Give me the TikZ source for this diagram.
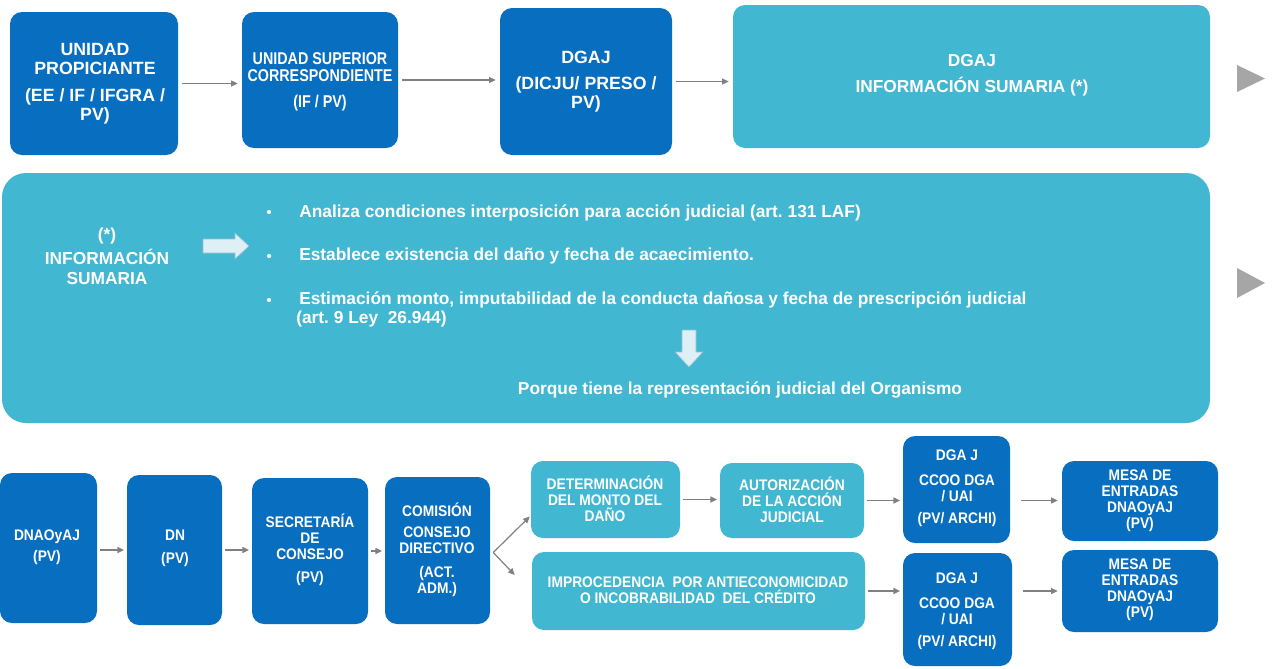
\documentclass[tikz,border=0pt]{standalone}
\usepackage{fontspec}
\setmainfont{Liberation Sans}
\newfontfamily\narrowsans{Liberation Sans}[FakeStretch=0.9]
\newfontfamily\tightsans{Liberation Sans}[FakeStretch=0.84]
\usetikzlibrary{arrows.meta,calc,fit}

\definecolor{deepblue}{RGB}{8,110,192}
\definecolor{skyblue}{RGB}{65,183,210}
\definecolor{connector}{RGB}{128,128,128}
\definecolor{pointer}{RGB}{166,166,166}
\definecolor{palefill}{RGB}{222,240,246}
\definecolor{paleedge}{RGB}{150,190,205}

\tikzset{
  box/.style={rounded corners=9pt, inner sep=0pt},
  dark/.style={box, fill=deepblue},
  light/.style={box, fill=skyblue},
  boxtext/.style={text=white, align=center, inner sep=0pt},
  bigfont/.style={font=\bfseries\fontsize{13.3}{14.3}\selectfont},
  midfont/.style={font=\tightsans\bfseries\fontsize{12.8}{12.8}\selectfont},
  lowfont/.style={font=\narrowsans\bfseries\fontsize{11.5}{12}\selectfont},
  paneltext/.style={text=white, inner sep=0pt, font=\bfseries\fontsize{13}{15}\selectfont},
  bulletdot/.style={fill=white!92!skyblue, circle, inner sep=0pt, minimum size=3.2pt},
  conn/.style={draw=connector, line width=0.9pt, -{Triangle[length=5pt,width=4.5pt]}},
  blockarrow/.style={fill=palefill, draw=paleedge, line width=0.5pt},
  pointertri/.style={fill=pointer}
}

\begin{document}
\begin{tikzpicture}[x=0.75pt,y=-0.75pt]
\useasboundingbox[fill=white] (0,0) rectangle (1280,668);

% ---- first row ----
\node[dark, fit={(10,12)(178,155)}] (unidad) {};
\node[boxtext, bigfont] (unidadtxt) at (95,83.5)
  {UNIDAD\\PROPICIANTE\\[6pt](EE / IF / IFGRA /\\PV)};
\node[dark, fit={(242,12)(398,148)}] (superior) {};
\node[boxtext, midfont] (superiortxt) at (320,82)
  {UNIDAD SUPERIOR\\CORRESPONDIENTE\\[7pt](IF / PV)};
\node[dark, fit={(500,8)(672,155)}] (dgaj) {};
\node[boxtext, bigfont] (dgajtxt) at (586,82)
  {DGAJ\\[5pt](DICJU/ PRESO /\\PV)};
\node[light, fit={(733,5)(1210,148)}] (sumaria) {};
\node[boxtext, font=\bfseries\fontsize{13}{14.5}\selectfont] (sumariatxt) at (972,75)
  {DGAJ\\[5pt]INFORMACIÓN SUMARIA (*)};
\fill[pointertri] (1237,65) -- (1265,78.5) -- (1237,92) -- cycle;

\draw[conn] ([xshift=3pt]unidad.east) -- ([xshift=-3pt]superior.west |- unidad.east);
\draw[conn] ([xshift=3pt]superior.east) -- ([xshift=-3pt]dgaj.west |- superior.east);
\draw[conn] ([xshift=3pt]dgaj.east) -- ([xshift=-3pt]sumaria.west |- dgaj.east);

% ---- explanation panel ----
\node[light, rounded corners=18pt, fit={(2,173)(1210,423)}] (panel) {};
\fill[pointertri] (1237,268) -- (1265,283) -- (1237,298) -- cycle;

\node[paneltext, align=center] (infotitle) at (107,256)
  {(*)\\[3pt]INFORMACIÓN\\SUMARIA};
\draw[blockarrow] (203,239) -- (235,239) -- (235,233) -- (249,246) -- (235,259) -- (235,253) -- (203,253) -- cycle;

\node[bulletdot] (dot1) at (269,212) {};
\node[bulletdot] (dot2) at (269,256) {};
\node[bulletdot] (dot3) at (269,300) {};
\node[paneltext, anchor=west] (item1) at (299,213)
  {Analiza condiciones interposición para acción judicial (art.\ 131 LAF)};
\node[paneltext, anchor=west] (item2) at (299,256)
  {Establece existencia del daño y fecha de acaecimiento.};
\node[paneltext, anchor=west] (item3) at (299,300)
  {Estimación monto, imputabilidad de la conducta dañosa y fecha de prescripción judicial};
\node[paneltext, anchor=west] (item3b) at (296,319) {(art.\ 9 Ley\ \ 26.944)};

\draw[blockarrow] (682,330) -- (696,330) -- (696,352) -- (703,352) -- (689,367) -- (675,352) -- (682,352) -- cycle;
\node[paneltext] (porque) at (740,390) {Porque tiene la representación judicial del Organismo};

% ---- last row ----
\node[dark, fit={(0,473)(97,623)}] (dnaoyaj) {};
\node[boxtext, lowfont] (dnaoyajtxt) at (47,547) {DNAOyAJ\\[4pt](PV)};
\node[dark, fit={(127,475)(222,625)}] (dn) {};
\node[boxtext, lowfont] (dntxt) at (175,548) {DN\\[5pt](PV)};
\node[dark, fit={(252,478)(368,624)}] (secretaria) {};
\node[boxtext, lowfont] (secretariatxt) at (310,550) {SECRETARÍA\\DE\\CONSEJO\\[5pt](PV)};
\node[dark, fit={(385,477)(490,624)}] (comision) {};
\node[boxtext, lowfont] (comisiontxt) at (437,550) {COMISIÓN\\[4pt]CONSEJO\\DIRECTIVO\\[6pt](ACT.\\ADM.)};

\node[light, fit={(531,461)(680,538)}] (monto) {};
\node[boxtext, lowfont] (montotxt) at (605,499) {DETERMINACIÓN\\DEL MONTO DEL\\DAÑO};
\node[light, fit={(720,463)(864,538)}] (autorizacion) {};
\node[boxtext, lowfont] (autorizaciontxt) at (792,500) {AUTORIZACIÓN\\DE LA ACCIÓN\\JUDICIAL};
\node[dark, fit={(903,436)(1010,543)}] (ccooA) {};
\node[boxtext, lowfont] (ccooAtxt) at (957,488) {DGA J\\[7pt]CCOO DGA\\/ UAI\\[4pt](PV/ ARCHI)};
\node[dark, fit={(1062,461)(1218,541)}] (mesaA) {};
\node[boxtext, lowfont] (mesaAtxt) at (1140,501) {MESA DE\\ENTRADAS\\DNAOyAJ\\(PV)};

\node[light, fit={(532,552)(865,630)}] (improcedencia) {};
\node[boxtext, lowfont] (improcedenciatxt) at (698,590)
  {IMPROCEDENCIA\ \ POR ANTIECONOMICIDAD\\O INCOBRABILIDAD\ \ DEL CRÉDITO};
\node[dark, fit={(903,553)(1012,666)}] (ccooB) {};
\node[boxtext, lowfont] (ccooBtxt) at (957,611) {DGA J\\[7pt]CCOO DGA\\/ UAI\\[4pt](PV/ ARCHI)};
\node[dark, fit={(1062,550)(1218,632)}] (mesaB) {};
\node[boxtext, lowfont] (mesaBtxt) at (1140,590) {MESA DE\\ENTRADAS\\DNAOyAJ\\(PV)};

\draw[conn] ([xshift=2pt]dnaoyaj.east |- dn.west) -- ([xshift=-2pt]dn.west);
\draw[conn] ([xshift=2pt]dn.east) -- ([xshift=-2pt]secretaria.west |- dn.east);
\draw[conn] ([xshift=2pt]secretaria.east) -- ([xshift=-2pt]comision.west |- secretaria.east);
\coordinate (fork) at ($(comision.east)+(3,2)$);
\draw[conn] (fork) -- ($(monto.west)+(-1,17)$);
\draw[conn] (fork) -- ($(improcedencia.west)+(-17,-16)$);
\draw[conn] ([xshift=2pt]monto.east) -- ([xshift=-2pt]autorizacion.west |- monto.east);
\draw[conn] ([xshift=2pt]autorizacion.east) -- ([xshift=-2pt]ccooA.west |- autorizacion.east);
\draw[conn] ([xshift=8pt]ccooA.east |- autorizacion.east) -- ([xshift=-3pt]mesaA.west |- autorizacion.east);
\draw[conn] ([xshift=2pt]improcedencia.east) -- ([xshift=-2pt]ccooB.west |- improcedencia.east);
\draw[conn] ([xshift=8pt]ccooB.east |- mesaB.west) -- ([xshift=-3pt]mesaB.west);
\end{tikzpicture}
\end{document}
